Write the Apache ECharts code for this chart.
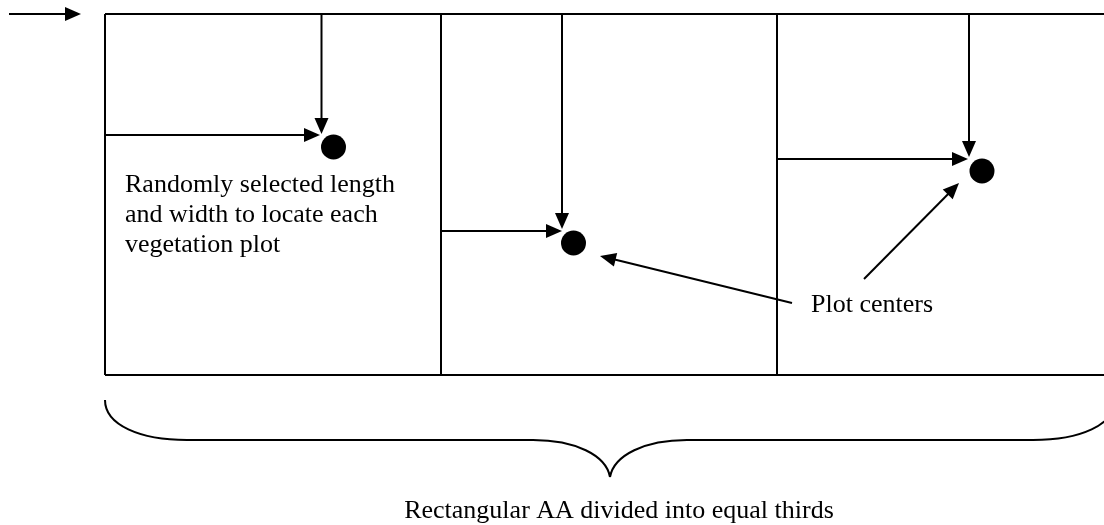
<!DOCTYPE html>
<html>
<head>
<meta charset="utf-8">
<title>Plot layout</title>
<script src="https://cdn.jsdelivr.net/npm/echarts@6/dist/echarts.min.js"></script>
<style>
  html, body { margin: 0; padding: 0; background: #fff; }
  #chart { width: 1104px; height: 525px; }
</style>
</head>
<body>
<div id="chart"></div>
<script>
// diagram coordinates, in units of the hidden value axes
const frameSegments = [
  [105, 14, 1113, 14],
  [105, 375, 1113, 375],
  [105, 14, 105, 375],
  [441, 14, 441, 375],
  [777, 14, 777, 375],
  [1113, 14, 1113, 375]
]

const arrowSegments = [
  [9, 14, 81, 14],
  [321.5, 14, 321.5, 134],
  [105, 135, 320, 135],
  [562, 14, 562, 229],
  [441, 231, 562, 231],
  [969, 14, 969, 157],
  [777, 159, 968, 159],
  [792, 303, 600, 256],
  [864, 279, 959, 183]
]

const plotCenters = [
  [333.5, 147],
  [573.5, 243],
  [982, 171]
]

// brace: start, control 1, control 2, end
const braceCurves = [
  [105, 400, 105, 425, 140, 440, 187, 440],
  [187, 440, 300, 440, 420, 440, 533, 440],
  [533, 440, 575, 440, 606, 455, 610, 477],
  [610, 477, 614, 455, 645, 440, 687, 440],
  [687, 440, 800, 440, 920, 440, 1033, 440],
  [1033, 440, 1080, 440, 1115, 425, 1115, 400]
]

const noteTexts = [
  'Randomly selected length\nand width to locate each\nvegetation plot',
  'Plot centers',
  'Rectangular AA divided into equal thirds'
]
const notePositions = [
  [125, 215, 'left'],
  [811, 305.5, 'left'],
  [619, 511, 'center']
]

const FONT = '26px "Liberation Serif", "Times New Roman", serif'

const chart = echarts.init(document.getElementById('chart'))

function segmentItem(params, api) {
  const a = api.coord([api.value(0), api.value(1)])
  const b = api.coord([api.value(2), api.value(3)])
  return {
    type: 'line',
    shape: { x1: a[0], y1: a[1], x2: b[0], y2: b[1] },
    style: { stroke: '#000', lineWidth: 2, fill: null }
  }
}

function arrowItem(params, api) {
  const a = api.coord([api.value(0), api.value(1)])
  const b = api.coord([api.value(2), api.value(3)])
  const dx = b[0] - a[0]
  const dy = b[1] - a[1]
  const len = Math.sqrt(dx * dx + dy * dy)
  const ux = dx / len
  const uy = dy / len
  const HEAD_LEN = 16
  const HEAD_HALF = 7
  const bx = b[0] - ux * HEAD_LEN
  const by = b[1] - uy * HEAD_LEN
  return {
    type: 'group',
    children: [
      {
        type: 'line',
        shape: { x1: a[0], y1: a[1], x2: bx + ux * 2, y2: by + uy * 2 },
        style: { stroke: '#000', lineWidth: 2 }
      },
      {
        type: 'polygon',
        shape: {
          points: [
            [b[0], b[1]],
            [bx - uy * HEAD_HALF, by + ux * HEAD_HALF],
            [bx + uy * HEAD_HALF, by - ux * HEAD_HALF]
          ]
        },
        style: { fill: '#000' }
      }
    ]
  }
}

function braceItem(params, api) {
  const p1 = api.coord([api.value(0), api.value(1)])
  const c1 = api.coord([api.value(2), api.value(3)])
  const c2 = api.coord([api.value(4), api.value(5)])
  const p2 = api.coord([api.value(6), api.value(7)])
  return {
    type: 'bezierCurve',
    shape: {
      x1: p1[0], y1: p1[1],
      cpx1: c1[0], cpy1: c1[1],
      cpx2: c2[0], cpy2: c2[1],
      x2: p2[0], y2: p2[1]
    },
    style: { stroke: '#000', lineWidth: 2, fill: null }
  }
}

function noteItem(params, api) {
  const pos = notePositions[params.dataIndex]
  const p = api.coord([pos[0], pos[1]])
  return {
    type: 'text',
    style: {
      text: noteTexts[params.dataIndex],
      x: p[0],
      y: p[1],
      font: FONT,
      fill: '#000',
      align: pos[2],
      verticalAlign: 'middle',
      lineHeight: 30
    }
  }
}

chart.setOption({
  animation: false,
  backgroundColor: '#fff',
  grid: { left: 0, right: 0, top: 0, bottom: 0 },
  xAxis: { type: 'value', min: 0, max: 1104, show: false },
  yAxis: { type: 'value', min: 0, max: 525, inverse: true, show: false },
  series: [
    {
      type: 'custom',
      renderItem: segmentItem,
      data: frameSegments
    },
    {
      type: 'custom',
      renderItem: arrowItem,
      data: arrowSegments
    },
    {
      type: 'custom',
      renderItem: braceItem,
      data: braceCurves
    },
    {
      type: 'scatter',
      symbol: 'circle',
      symbolSize: 25,
      itemStyle: { color: '#000', opacity: 1 },
      data: plotCenters
    },
    {
      type: 'custom',
      renderItem: noteItem,
      data: noteTexts.map((t, i) => i)
    }
  ]
})
</script>
</body>
</html>
